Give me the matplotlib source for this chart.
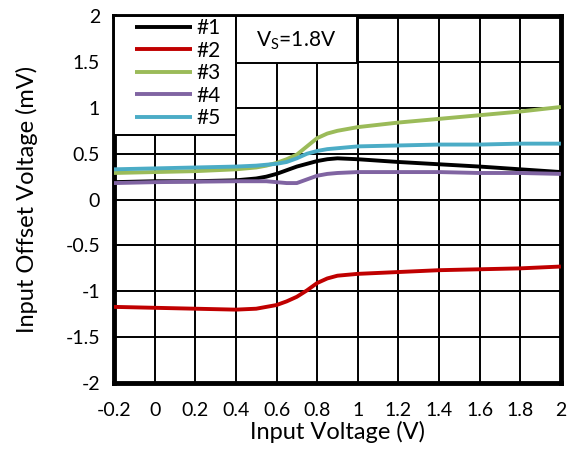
import matplotlib
matplotlib.use('Agg')
import matplotlib.pyplot as plt
import matplotlib.patches as patches
import numpy as np

plt.rcParams['font.family'] = ['Lato', 'DejaVu Sans']
plt.rcParams['font.size'] = 14

# input voltage (V)
vin = [-0.2, 0, 0.2, 0.4, 0.5, 0.55, 0.6, 0.65, 0.7, 0.75, 0.8, 0.85, 0.9, 1.0, 1.2, 1.4, 1.6, 1.8, 2.0]
# input offset voltage (mV) per unit
vos1 = [0.19, 0.20, 0.20, 0.21, 0.23, 0.25, 0.28, 0.32, 0.36, 0.39, 0.42, 0.44, 0.45, 0.44, 0.41, 0.385, 0.36, 0.33, 0.30]
vos2 = [-1.17, -1.18, -1.19, -1.20, -1.19, -1.17, -1.15, -1.11, -1.06, -0.99, -0.91, -0.86, -0.83, -0.81, -0.79, -0.77, -0.76, -0.75, -0.73]
vos3 = [0.29, 0.30, 0.31, 0.33, 0.35, 0.37, 0.40, 0.44, 0.49, 0.58, 0.67, 0.72, 0.75, 0.79, 0.84, 0.88, 0.92, 0.96, 1.01]
vos4 = [0.18, 0.19, 0.195, 0.20, 0.20, 0.20, 0.19, 0.18, 0.18, 0.22, 0.26, 0.28, 0.29, 0.30, 0.30, 0.30, 0.29, 0.29, 0.28]
vos5 = [0.33, 0.34, 0.35, 0.36, 0.37, 0.38, 0.39, 0.41, 0.45, 0.50, 0.53, 0.55, 0.56, 0.58, 0.59, 0.60, 0.60, 0.61, 0.61]
names = ['#1', '#2', '#3', '#4', '#5']
colors = ['#000000', '#C00000', '#9BBB59', '#8064A2', '#4BACC6']

fig = plt.figure(figsize=(5.7, 4.49), dpi=100)
ax = fig.add_axes([0.2, 0.147, 0.784, 0.817])

for ys, name, c in zip([vos1, vos2, vos3, vos4, vos5], names, colors):
    ax.plot(vin, ys, color=c, lw=2.8, label=name, solid_joinstyle='round', solid_capstyle='butt', zorder=3)

ax.set_xlim(-0.2, 2)
ax.set_ylim(-2, 2)
xt = np.round(np.arange(-0.2, 2.01, 0.2), 1)
ax.set_xticks(xt)
ax.set_xticklabels(['%g' % v for v in xt])
yt = np.arange(-2, 2.01, 0.5)
ax.set_yticks(yt)
ax.set_yticklabels(['%g' % v for v in yt])
ax.tick_params(length=0)
ax.tick_params(axis='x', pad=14)
ax.tick_params(axis='y', pad=10)
ax.grid(True, color='black', lw=1.4)
for s in ax.spines.values():
    s.set_linewidth(3.5)
ax.set_xlabel('Input Voltage (V)', labelpad=1, fontsize=17)
ax.set_ylabel('Input Offset Voltage (mV)', labelpad=20, fontsize=17)

# legend box drawn separately so the handles can sit inset like the original
lbox = patches.Rectangle((0, 0.676), 0.273, 0.324, transform=ax.transAxes,
                         facecolor='white', edgecolor='black', lw=1.4, zorder=5)
ax.add_patch(lbox)
leg = ax.legend(loc='upper left', bbox_to_anchor=(0.042, 1.0), borderaxespad=0,
                frameon=False, handlelength=2.75, handletextpad=0.2,
                labelspacing=0.12, borderpad=0.1, fontsize=15)
leg.set_zorder(6)

box = patches.Rectangle((0.273, 0.872), 0.271, 0.128, transform=ax.transAxes,
                        facecolor='white', edgecolor='black', lw=1.4, zorder=5)
ax.add_patch(box)
ax.text(0.408, 0.934, r'V$_\mathregular{S}$=1.8V', transform=ax.transAxes,
        ha='center', va='center', fontsize=15, zorder=6)

fig.savefig('out.png', dpi=100)
